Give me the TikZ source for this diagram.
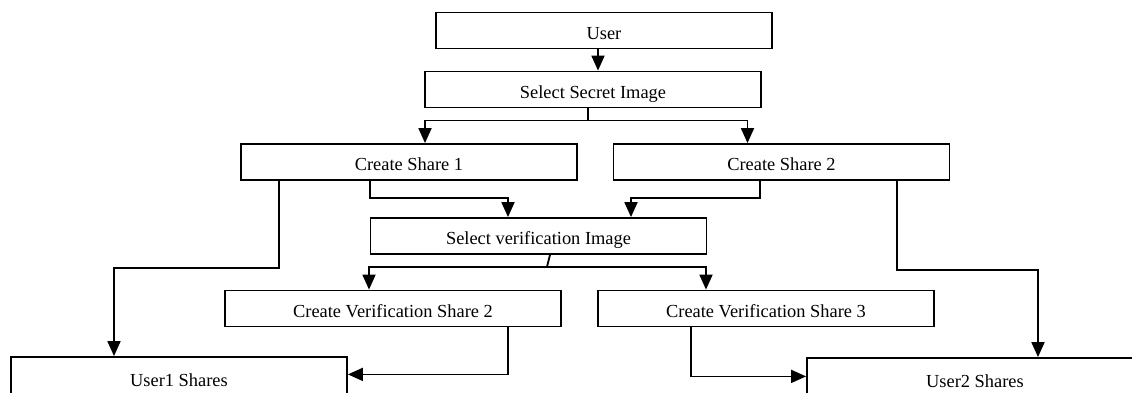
\documentclass[tikz,border=0pt]{standalone}
\usepackage{fontspec}
\setmainfont{Liberation Serif}
\usetikzlibrary{arrows.meta}
\tikzset{
    flowbox/.style={
        rectangle,
        draw=black,
        line width=0.9pt,
        minimum width=168pt,
        minimum height=18pt,
        inner sep=0pt,
        text height=8.5pt,
        text depth=0pt,
        font=\fontsize{9.2}{11}\selectfont,
    },
    endbox/.style={
        flowbox,
        minimum height=21pt,
    },
    connector/.style={
        -{Triangle[length=7.5pt,width=6.5pt]},
        line width=0.9pt,
    },
    plain connector/.style={
        line width=0.9pt,
    },
}
\begin{document}
\begin{tikzpicture}[x=0.5pt,y=-0.5pt]
    \useasboundingbox (0,0) rectangle (1132,392);
    \clip (0,0) rectangle (1132,392);
    \node[flowbox](user) at (604,30.5) {User};
    \node[flowbox](secret) at (593,89.5) {Select Secret Image};
    \node[flowbox](share1) at (409,162) {Create Share 1};
    \node[flowbox](share2) at (781.5,162) {Create Share 2};
    \node[flowbox](verif) at (538.5,236) {Select verification Image};
    \node[flowbox](vshare2) at (393,308.5) {Create Verification Share 2};
    \node[flowbox](vshare3) at (766,308.5) {Create Verification Share 3};
    \node[endbox](u1) at (179,378) {User1 Shares};
    \node[endbox](u2) at (975,379) {User2 Shares};
    % secret image -> shares
    \draw[connector] ([xshift=-3pt]user.south) -- ([xshift=-3pt]user.south |- secret.north);
    \draw[connector] ([xshift=-2.5pt]secret.south) -- ++(0,12) -| ([xshift=8pt]share1.north);
    \draw[connector] ([xshift=-2.5pt]secret.south) -- ++(0,12) -| ([xshift=-17pt]share2.north);
    \draw[connector] ([xshift=-65pt]share1.south) -- ++(0,87) -| ([xshift=-32.5pt]u1.north);
    \draw[connector] ([xshift=-19.5pt]share1.south) -- ++(0,17) -| ([xshift=-15.25pt]verif.north);
    \draw[connector] ([xshift=-10.75pt]share2.south) -- ++(0,17) -| ([xshift=46.25pt]verif.north);
    \draw[connector] ([xshift=57.75pt]share2.south) -- ++(0,89) -| ([xshift=31.5pt]u2.north);
    % verification image -> verification shares
    \draw[plain connector] ([xshift=5.75pt]verif.south) -- ++(-3,12) coordinate (vsplit);
    \draw[connector] (vsplit) -| ([xshift=-12pt]vshare2.north);
    \draw[connector] (vsplit) -| ([xshift=-30pt]vshare3.north);
    \draw[connector] ([xshift=57.5pt]vshare2.south) -- ++(0,47) coordinate (c2) -- (c2 -| u1.east);
    \draw[connector] ([xshift=-37.5pt]vshare3.south) -- ++(0,49) coordinate (c3) -- (c3 -| u2.west);
\end{tikzpicture}
\end{document}
